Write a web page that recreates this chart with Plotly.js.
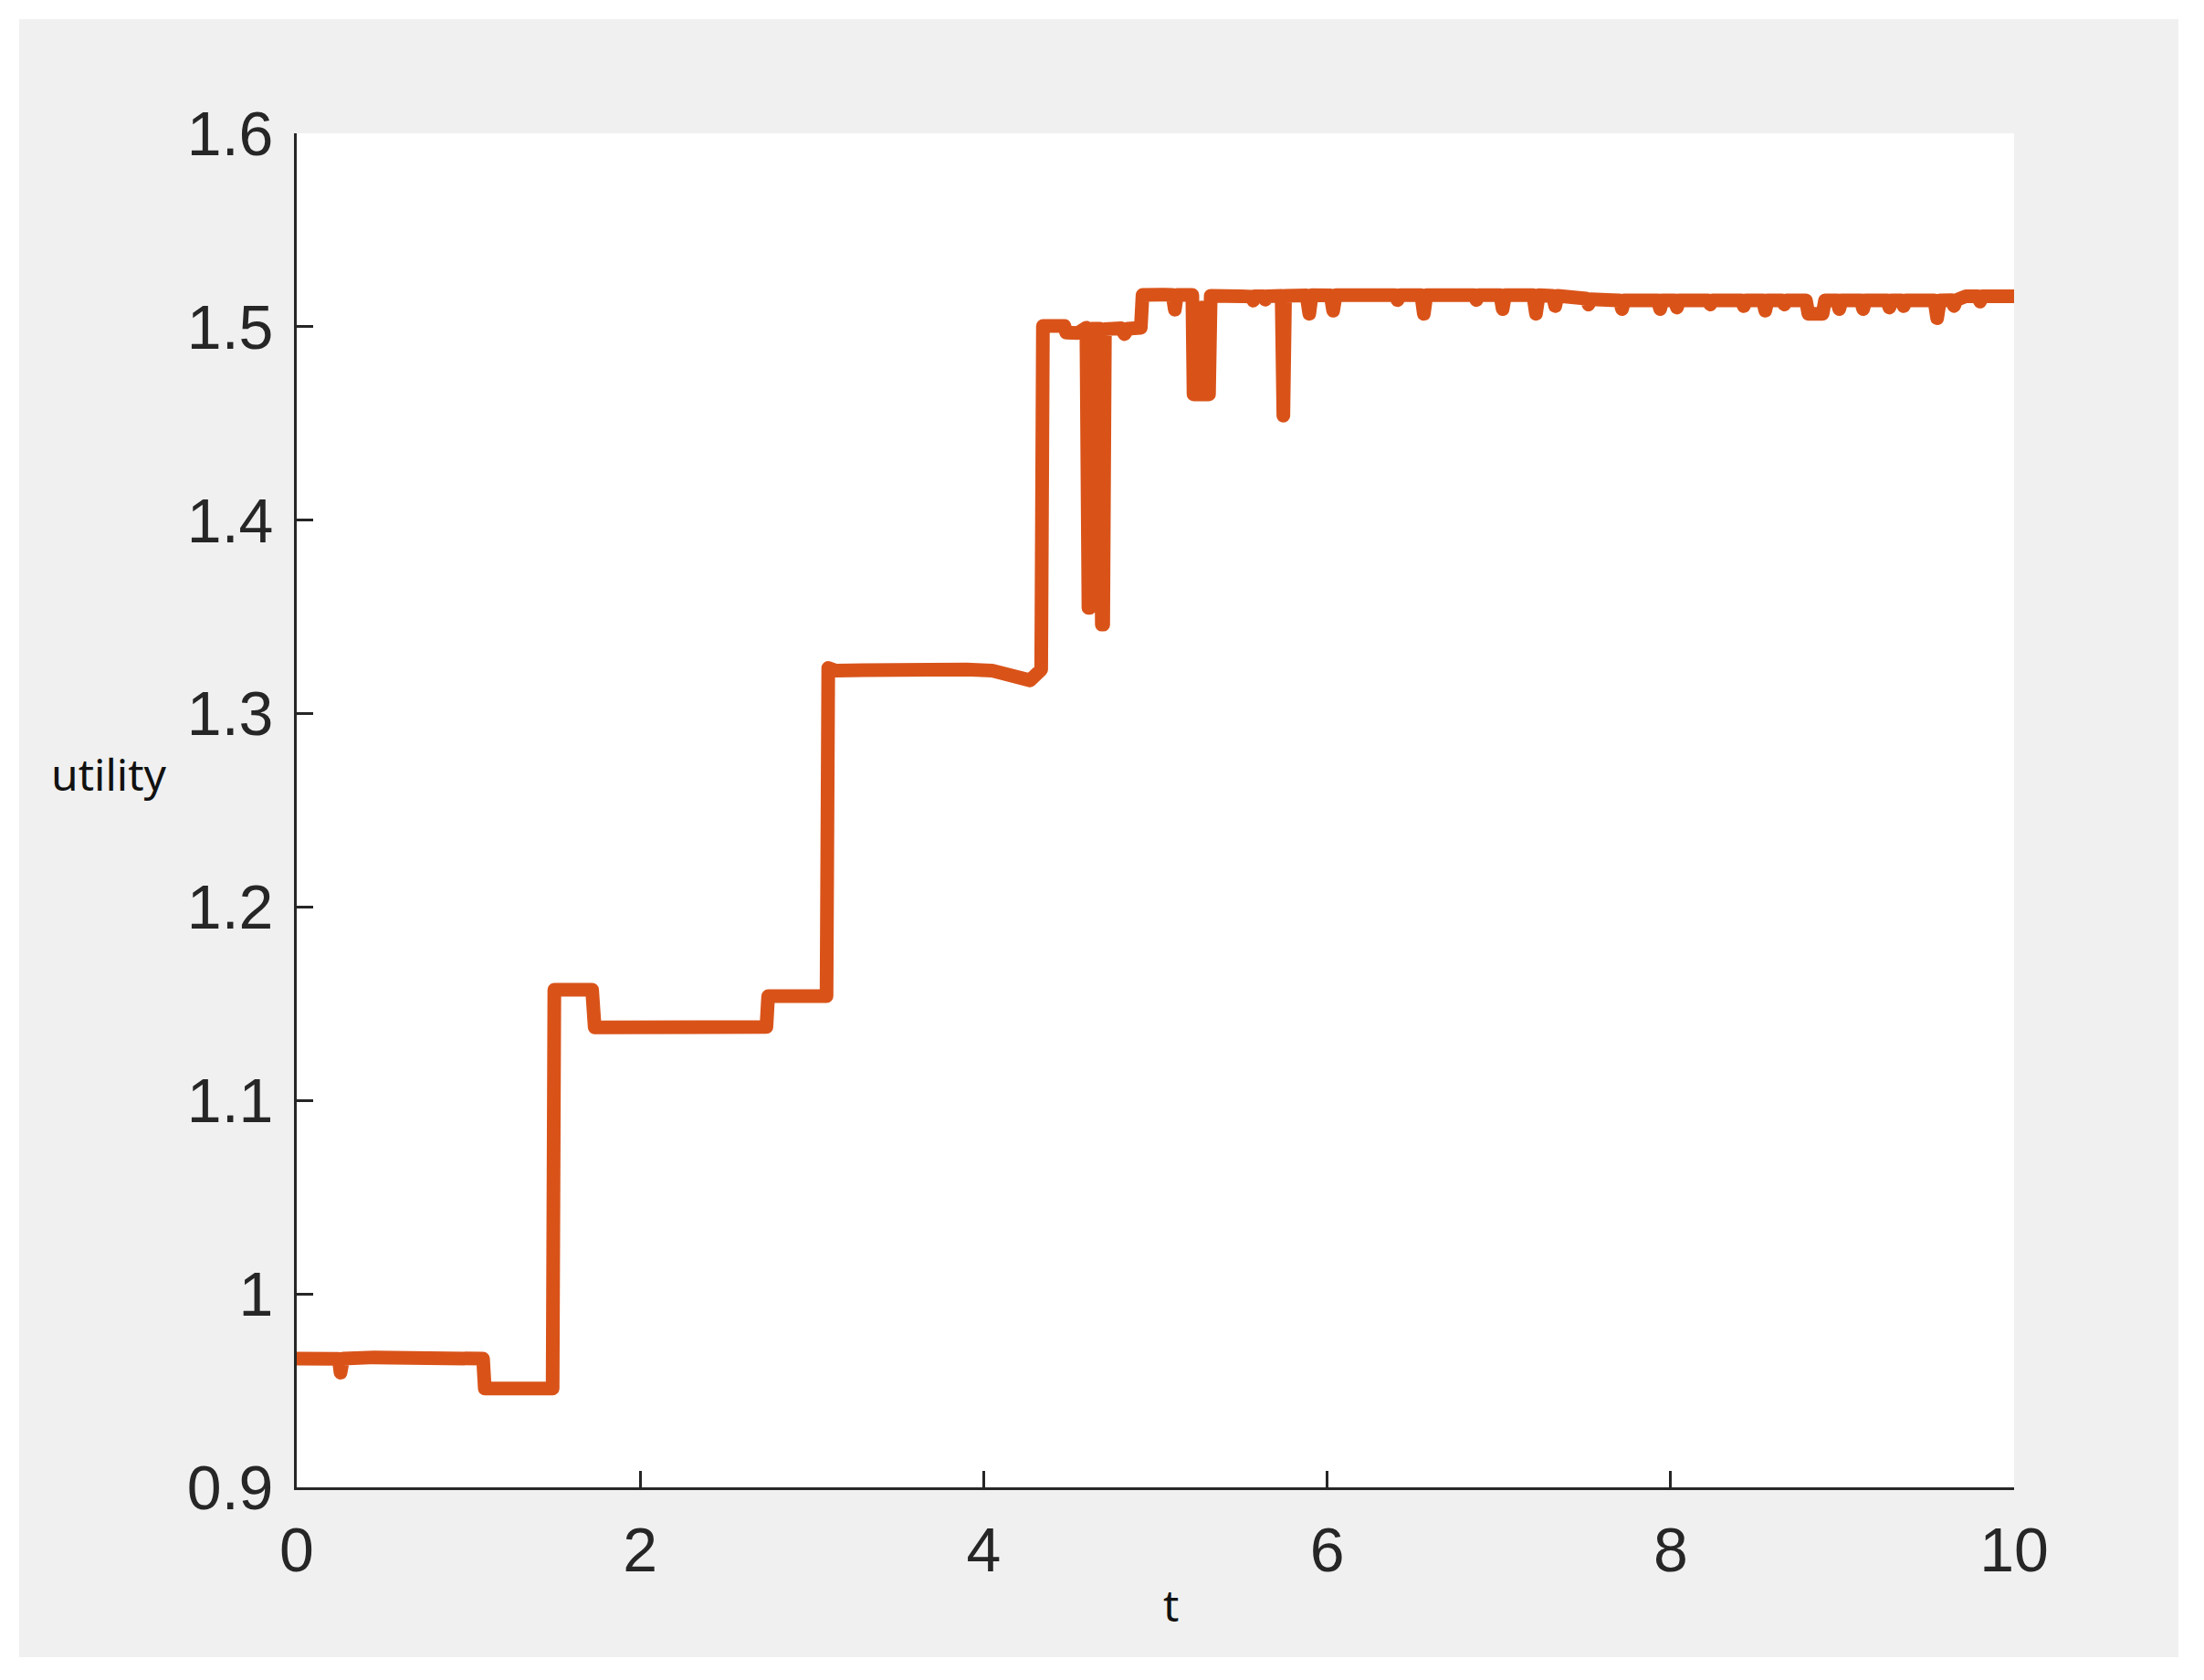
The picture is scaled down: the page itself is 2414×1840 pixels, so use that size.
<!DOCTYPE html>
<html>
<head>
<meta charset="utf-8">
<script src="https://cdn.plot.ly/plotly-3.0.1.min.js"></script>
<style>
	body { margin: 0; background: #ffffff; }
	#plotUtilityContainer { position: absolute; left: 21px; top: 21px; width: 2365px; height: 1794px; }
	#plotUtilityContainer path.js-line { stroke-linejoin: round !important; stroke-linecap: round !important; }
</style>
</head>
<body>
<div id="plotUtilityContainer"></div>
<script>

// time axis samples (t)
const tValues = [
	0, 0.10, 0.22, 0.245, 0.255, 0.27, 0.45, 0.60, 0.80, 0.95, 1.085,
	1.095, 1.30, 1.49,
	1.50, 1.72,
	1.735, 2.00, 2.20, 2.40, 2.60, 2.735,
	2.745, 3.085,
	3.095, 3.14, 3.30, 3.50, 3.70, 3.90, 4.05, 4.15, 4.27, 4.335,
	4.345, 4.47, 4.48, 4.55, 4.598,
	4.610, 4.618, 4.628, 4.678, 4.688, 4.696, 4.706,
	4.80, 4.82, 4.84, 4.915,
	4.925, 5.05, 5.10, 5.113, 5.125, 5.215,
	5.222, 5.262, 5.27, 5.278, 5.312,
	5.322, 5.50, 5.56, 5.57, 5.58, 5.63, 5.64, 5.65, 5.735,
	5.745, 5.755,
	5.88, 5.896, 5.91, 6.02, 6.035, 6.05, 6.16, 6.174, 6.19, 6.395, 6.41, 6.425,
	6.548, 6.563, 6.578, 6.855, 6.869, 6.883, 7.008, 7.022, 7.036,
	7.20, 7.216, 7.232, 7.314, 7.328, 7.342, 7.40,
	7.508, 7.522, 7.536, 7.66, 7.703, 7.717, 7.731, 7.925, 7.939, 7.953,
	8.023, 8.037, 8.051, 8.217, 8.231, 8.245, 8.412, 8.426, 8.44,
	8.537, 8.551, 8.565, 8.648, 8.662, 8.676, 8.788, 8.802, 8.885, 8.899,
	8.968, 8.982, 8.996, 9.107, 9.121, 9.135, 9.26, 9.274, 9.288,
	9.343, 9.357, 9.371, 9.536, 9.552, 9.568, 9.636, 9.65, 9.664,
	9.72, 9.788, 9.802, 9.816, 10
];

// utility values at the same samples
const utilityValues = [
	0.9665, 0.9668, 0.9665, 0.9664, 0.9593, 0.9666, 0.9672, 0.9670, 0.9667, 0.9668, 0.9665,
	0.9511, 0.9510, 0.9511,
	1.1572, 1.1572,
	1.1378, 1.1376, 1.1379, 1.1375, 1.1378, 1.1380,
	1.1539, 1.1540,
	1.3236, 1.3222, 1.3224, 1.3230, 1.3234, 1.3228, 1.3222, 1.3200, 1.3172, 1.3228,
	1.5004, 1.5004, 1.4970, 1.4968, 1.4995,
	1.3547, 1.3547, 1.4990, 1.4990, 1.3460, 1.3460, 1.4988,
	1.4992, 1.4962, 1.4990, 1.4995,
	1.5164, 1.5166, 1.5164, 1.5088, 1.5164, 1.5164,
	1.4650, 1.4650, 1.5100, 1.4650, 1.4650,
	1.5160, 1.5158, 1.5155, 1.5135, 1.5157, 1.5157, 1.5140, 1.5158, 1.5160,
	1.4540, 1.5160,
	1.5162, 1.5067, 1.5163, 1.5162, 1.5083, 1.5163, 1.5163, 1.5146, 1.5163, 1.5163, 1.5138, 1.5163,
	1.5163, 1.5067, 1.5163, 1.5163, 1.5138, 1.5163, 1.5163, 1.5091, 1.5163,
	1.5163, 1.5067, 1.5163, 1.5160, 1.5107, 1.5160, 1.5156,
	1.5146, 1.5115, 1.5142, 1.5137, 1.5136, 1.5091, 1.5136, 1.5136, 1.5091, 1.5136,
	1.5136, 1.5099, 1.5136, 1.5136, 1.5115, 1.5136, 1.5136, 1.5107, 1.5136,
	1.5136, 1.5083, 1.5136, 1.5136, 1.5115, 1.5136, 1.5136, 1.5067, 1.5067, 1.5136,
	1.5136, 1.5091, 1.5136, 1.5136, 1.5091, 1.5136, 1.5136, 1.5099, 1.5136,
	1.5136, 1.5107, 1.5136, 1.5136, 1.5044, 1.5136, 1.5137, 1.5107, 1.5138,
	1.5158, 1.5158, 1.5130, 1.5158, 1.5158
];

const xTickValues = [ 0, 2, 4, 6, 8, 10 ];
const yTickValues = [ 0.9, 1.0, 1.1, 1.2, 1.3, 1.4, 1.5, 1.6 ];
const yTickLabels = [ '0.9', '1', '1.1', '1.2', '1.3', '1.4', '1.5', '1.6' ];

/**
 * Creates utility over time line plot in MATLAB style.
 *
 * @param { Array } t time samples
 * @param { Array } utility utility value for each sample
 */
function createUtilityPlot( t, utility ) {

	const axisColor = '#262626';
	const tickFont = { family: 'Liberation Sans, Arial, sans-serif', size: 68, color: axisColor };
	const titleFont = { family: 'Noto Sans, sans-serif', size: 48, color: '#111111' };

	let data = [
		{
			x: t,
			y: utility,
			type: 'scatter',
			mode: 'lines',
			line: { color: '#D95319', width: 15 },
			hoverinfo: 'skip'
		}
	];

	let axisBase = {
		showline: true,
		linecolor: axisColor,
		linewidth: 3,
		showgrid: false,
		zeroline: false,
		ticks: 'inside',
		ticklen: 18,
		tickwidth: 3,
		tickcolor: axisColor,
		tickfont: tickFont,
		mirror: false,
		fixedrange: true
	};

	let layout = {
		width: 2365,
		height: 1794,
		margin: { l: 304, r: 180, t: 125, b: 186 },
		paper_bgcolor: '#f0f0f0',
		plot_bgcolor: '#ffffff',
		showlegend: false,
		xaxis: Object.assign( { }, axisBase, {
			range: [ 0, 10 ],
			tickmode: 'array',
			tickvals: xTickValues,
			ticktext: xTickValues.map( String ),
			ticklabelstandoff: 7
		} ),
		yaxis: Object.assign( { }, axisBase, {
			range: [ 0.9, 1.6 ],
			tickmode: 'array',
			tickvals: yTickValues,
			ticktext: yTickLabels,
			ticklabelstandoff: 9
		} ),
		annotations: [
			{
				text: 'utility',
				xref: 'paper', yref: 'paper',
				x: -0.1095, y: 0.5267,
				xanchor: 'center', yanchor: 'middle',
				showarrow: false,
				font: titleFont
			},
			{
				text: 't',
				xref: 'paper', yref: 'paper',
				x: 0.5093, y: -0.0864,
				xanchor: 'center', yanchor: 'middle',
				showarrow: false,
				font: titleFont
			}
		]
	};

	Plotly.newPlot( 'plotUtilityContainer', data, layout, { displayModeBar: false, staticPlot: true } );

}

createUtilityPlot( tValues, utilityValues );

</script>
</body>
</html>
